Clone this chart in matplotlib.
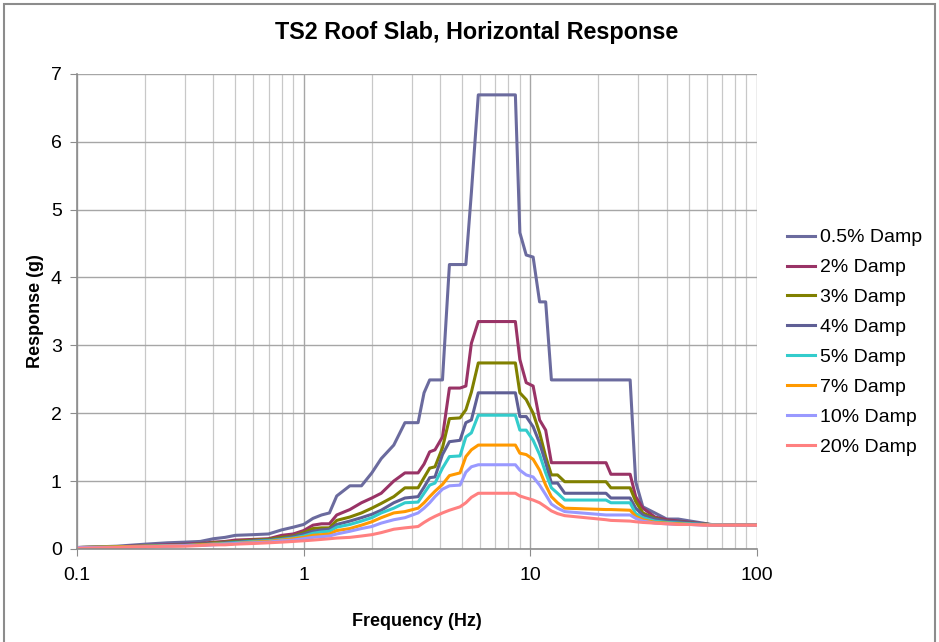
import matplotlib
matplotlib.use("Agg")
import matplotlib.pyplot as plt
from matplotlib.patches import Rectangle
from matplotlib.ticker import LogLocator, NullFormatter, FixedLocator

plt.rcParams['font.family'] = ['Liberation Sans', 'DejaVu Sans']

# frequency grid (Hz)
freq = [0.1, 0.15, 0.2, 0.25, 0.3, 0.35, 0.4, 0.45, 0.5, 0.6, 0.7, 0.8, 0.9,
        1.0, 1.1, 1.2, 1.3, 1.4, 1.6, 1.8, 2.0, 2.2, 2.5, 2.8, 3.2, 3.4, 3.6,
        3.8, 4.1, 4.4, 4.9, 5.2, 5.5, 5.9, 8.6, 9.0, 9.6, 10.3, 11.0, 11.7,
        12.4, 13.2, 14.2, 21.6, 22.7, 27.6, 29.2, 31.4, 35.5, 40, 45, 51, 58,
        62, 80, 100]

damp_05 = [0.02, 0.04, 0.07, 0.09, 0.10, 0.11, 0.15, 0.17, 0.20, 0.21, 0.22, 0.28, 0.32,
           0.36, 0.45, 0.50, 0.53, 0.78, 0.93, 0.93, 1.12, 1.33, 1.53, 1.86, 1.86, 2.30, 2.49,
           2.49, 2.49, 4.19, 4.19, 4.19, 5.25, 6.69, 6.69, 4.66, 4.33, 4.30, 3.64, 3.64,
           2.49, 2.49, 2.49, 2.49, 2.49, 2.49, 0.99, 0.62, 0.53, 0.44, 0.44, 0.41, 0.38,
           0.36, 0.35, 0.35]
damp_2 = [0.02, 0.03, 0.05, 0.06, 0.07, 0.08, 0.10, 0.11, 0.13, 0.14, 0.15, 0.20, 0.22,
          0.27, 0.35, 0.37, 0.37, 0.50, 0.58, 0.68, 0.75, 0.82, 1.00, 1.12, 1.12, 1.25, 1.43,
          1.46, 1.65, 2.37, 2.37, 2.40, 3.03, 3.35, 3.35, 2.79, 2.45, 2.40, 1.90, 1.75,
          1.27, 1.27, 1.27, 1.27, 1.10, 1.10, 0.77, 0.60, 0.47, 0.43, 0.41, 0.39, 0.37,
          0.36, 0.35, 0.35]
damp_3 = [0.02, 0.03, 0.04, 0.05, 0.06, 0.07, 0.09, 0.10, 0.11, 0.13, 0.14, 0.17, 0.19,
          0.24, 0.30, 0.31, 0.31, 0.42, 0.47, 0.53, 0.60, 0.67, 0.77, 0.90, 0.90, 1.05, 1.19,
          1.21, 1.49, 1.92, 1.93, 2.05, 2.31, 2.74, 2.74, 2.30, 2.20, 2.00, 1.71, 1.36,
          1.09, 1.09, 0.99, 0.99, 0.90, 0.90, 0.70, 0.53, 0.45, 0.41, 0.40, 0.38, 0.37,
          0.36, 0.35, 0.35]
damp_4 = [0.02, 0.03, 0.04, 0.05, 0.06, 0.07, 0.08, 0.09, 0.10, 0.12, 0.13, 0.15, 0.18,
          0.22, 0.26, 0.28, 0.29, 0.36, 0.41, 0.46, 0.51, 0.57, 0.68, 0.75, 0.77, 0.91, 1.05,
          1.06, 1.39, 1.58, 1.60, 1.86, 1.90, 2.30, 2.30, 1.95, 1.95, 1.80, 1.56, 1.27,
          0.97, 0.97, 0.82, 0.82, 0.75, 0.75, 0.60, 0.50, 0.44, 0.41, 0.40, 0.38, 0.37,
          0.36, 0.35, 0.35]
damp_5 = [0.02, 0.03, 0.04, 0.05, 0.05, 0.06, 0.07, 0.08, 0.09, 0.11, 0.12, 0.14, 0.16,
          0.19, 0.23, 0.25, 0.26, 0.32, 0.36, 0.41, 0.46, 0.53, 0.60, 0.68, 0.69, 0.82, 0.94,
          0.97, 1.19, 1.36, 1.37, 1.65, 1.71, 1.97, 1.97, 1.75, 1.75, 1.60, 1.39, 1.12,
          0.90, 0.82, 0.72, 0.72, 0.68, 0.68, 0.52, 0.46, 0.41, 0.39, 0.38, 0.37, 0.36,
          0.36, 0.35, 0.35]
damp_7 = [0.02, 0.03, 0.04, 0.04, 0.05, 0.06, 0.07, 0.07, 0.08, 0.10, 0.11, 0.13, 0.15,
          0.17, 0.20, 0.21, 0.22, 0.27, 0.30, 0.35, 0.40, 0.46, 0.53, 0.55, 0.60, 0.68, 0.77,
          0.85, 0.95, 1.08, 1.12, 1.36, 1.46, 1.53, 1.53, 1.41, 1.39, 1.32, 1.16, 0.94,
          0.77, 0.68, 0.60, 0.58, 0.58, 0.57, 0.48, 0.43, 0.39, 0.38, 0.37, 0.36, 0.36,
          0.35, 0.35, 0.35]
damp_10 = [0.02, 0.02, 0.03, 0.04, 0.05, 0.05, 0.06, 0.07, 0.08, 0.09, 0.10, 0.12, 0.13,
           0.15, 0.17, 0.18, 0.19, 0.22, 0.26, 0.30, 0.33, 0.38, 0.43, 0.46, 0.53, 0.60, 0.68,
           0.77, 0.88, 0.93, 0.94, 1.13, 1.21, 1.24, 1.24, 1.16, 1.09, 1.06, 0.94, 0.80,
           0.66, 0.60, 0.55, 0.50, 0.50, 0.50, 0.45, 0.41, 0.38, 0.37, 0.36, 0.36, 0.35,
           0.35, 0.35, 0.35]
damp_20 = [0.01, 0.02, 0.03, 0.04, 0.04, 0.05, 0.06, 0.06, 0.07, 0.08, 0.09, 0.10, 0.11,
           0.12, 0.13, 0.14, 0.15, 0.16, 0.17, 0.19, 0.21, 0.24, 0.29, 0.31, 0.33, 0.39, 0.44,
           0.48, 0.53, 0.57, 0.62, 0.68, 0.76, 0.82, 0.82, 0.78, 0.75, 0.72, 0.68, 0.62,
           0.56, 0.52, 0.49, 0.43, 0.42, 0.41, 0.40, 0.39, 0.38, 0.37, 0.36, 0.36, 0.35,
           0.35, 0.35, 0.35]

labels = ["0.5% Damp", "2% Damp", "3% Damp", "4% Damp",
          "5% Damp", "7% Damp", "10% Damp", "20% Damp"]
series = [damp_05, damp_2, damp_3, damp_4, damp_5, damp_7, damp_10, damp_20]
colors = ["#6b6b9e", "#993366", "#808000", "#5f5f95",
          "#33cccc", "#ff9900", "#9999ff", "#ff8080"]

fig = plt.figure(figsize=(9.39, 6.42), dpi=100)
ax = fig.add_axes([0.082, 0.145, 0.724, 0.740])

for vals, lab, c in zip(series, labels, colors):
    ax.plot(freq, vals, color=c, lw=2.2, label=lab)

ax.set_xscale("log")
ax.set_xlim(0.1, 100)
ax.set_ylim(0, 7)
ax.set_yticks(range(0, 8))
ax.xaxis.set_major_locator(FixedLocator([0.1, 1, 10, 100]))
ax.set_xticklabels(["0.1", "1", "10", "100"])
ax.xaxis.set_minor_locator(LogLocator(base=10, subs=range(2, 10)))
ax.xaxis.set_minor_formatter(NullFormatter())

ax.grid(True, which="major", axis="both", color="#a6a6a6", lw=1.0)
ax.grid(True, which="minor", axis="x", color="#c8c8c8", lw=0.9)
ax.set_axisbelow(True)

for s in ["top", "right"]:
    ax.spines[s].set_visible(False)
for s in ["left", "bottom"]:
    ax.spines[s].set_color("#8c8c8c")
    ax.spines[s].set_linewidth(1.2)

ax.tick_params(axis="both", which="major", labelsize=14, color="#8c8c8c", length=5)
ax.tick_params(axis="y", pad=6)
ax.tick_params(axis="x", pad=8)
ax.tick_params(axis="x", which="minor", length=0)

ax.set_xlabel("Frequency (Hz)", fontsize=13, fontweight="bold", labelpad=21)
ax.set_ylabel("Response (g)", fontsize=13, fontweight="bold", labelpad=5)
fig.text(0.508, 0.949, "TS2 Roof Slab, Horizontal Response", ha="center", va="center",
         fontsize=16.8, fontweight="bold")

fig.legend(loc="center left", bbox_to_anchor=(0.830, 0.467), frameon=False,
           fontsize=14, handlelength=1.45, handletextpad=0.26, labelspacing=0.63,
           borderaxespad=0)

# outer chart border
fig.patches.append(Rectangle((4 / 939, -0.05), 931 / 939, 1 - 4 / 642 + 0.05,
                             transform=fig.transFigure, fill=False,
                             edgecolor="#8c8c8c", lw=1.5))

fig.savefig("out.png", dpi=100)
